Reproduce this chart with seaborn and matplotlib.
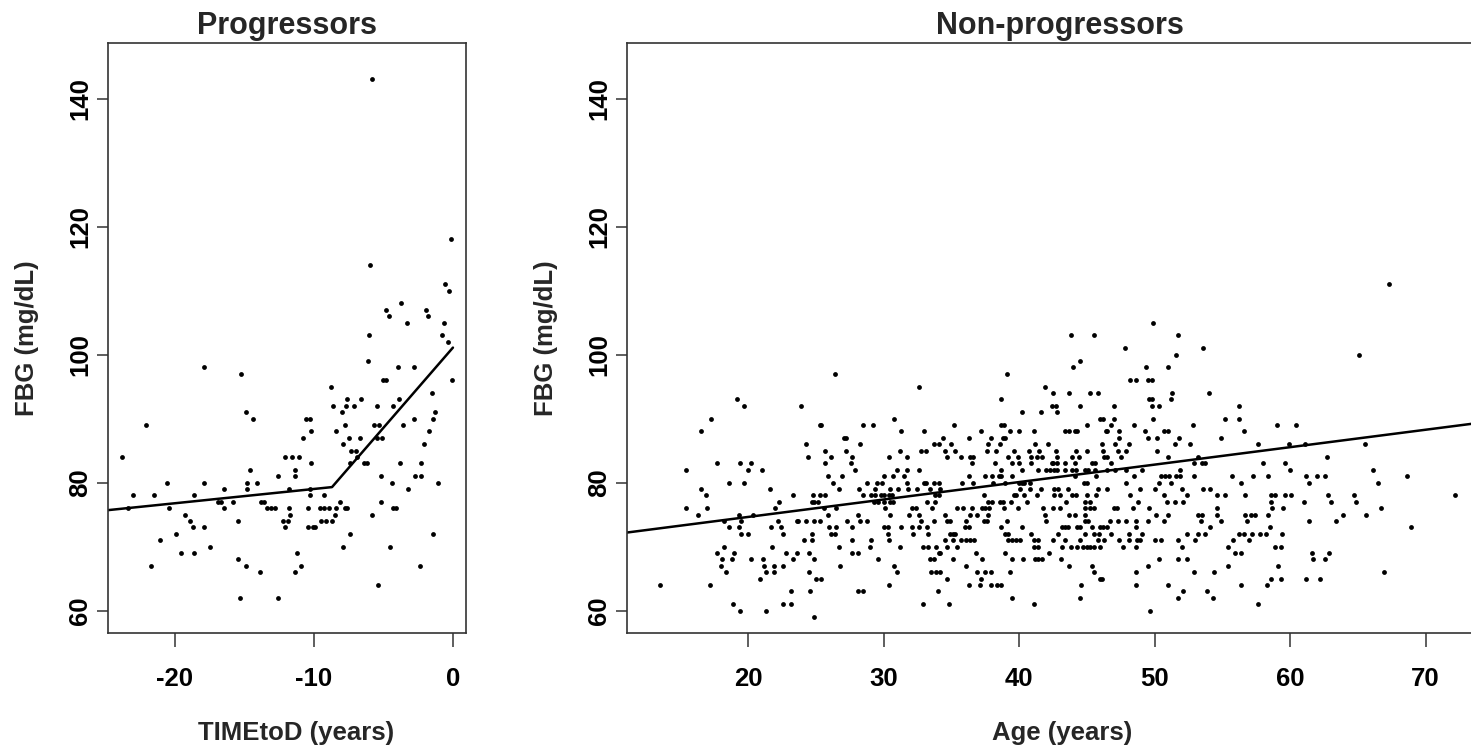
import matplotlib
matplotlib.use("Agg")
import matplotlib.pyplot as plt
import pandas as pd
import seaborn as sns

# Progressors: FBG level -> time to diagnosis (years) of the points on that level
prog_levels = [143, 118, 114, 111, 110, 108, 107, 106, 105, 103, 102, 99, 98, 97, 96, 95,
               94, 93, 92, 91, 90, 89, 88, 87, 86, 85, 84, 83, 82, 81, 80, 79, 78, 77,
               76, 75, 74, 73, 72, 71, 70, 69, 68, 67, 66, 64, 62]
prog_times = [
    [-5.85], [-0.17], [-5.95], [-0.58], [-0.26], [-3.72], [-4.84, -1.92], [-4.58, -1.82],
    [-3.29, -0.67], [-6.04, -0.77], [-0.38], [-6.14], [-17.89, -3.98, -2.81], [-15.25],
    [-5.06, -4.84, -0.05], [-8.78],
    [-1.5],
    [-7.6, -6.6, -3.9],
    [-8.6, -7.7, -7.1, -5.5, -4.3],
    [-14.9, -8.0, -1.3],
    [-14.4, -10.6, -10.3, -2.8, -1.4],
    [-22.1, -7.8, -5.7, -5.3, -3.6],
    [-10.2, -8.4, -1.7],
    [-10.8, -7.5, -6.7, -5.5, -5.1],
    [-7.9, -2.1],
    [-7.3, -7.0],
    [-23.8, -12.1, -11.6, -11.1, -6.9],
    [-10.2, -7.4, -6.4, -6.2, -3.8, -2.3],
    [-14.6, -11.4],
    [-12.6, -11.4, -5.2, -2.7, -2.3],
    [-20.6, -17.9, -14.8, -14.1, -4.4, -1.1],
    [-16.5, -14.8, -11.8, -10.3, -3.2],
    [-23.0, -21.5, -18.6, -10.3, -9.3],
    [-16.9, -16.7, -15.8, -13.8, -13.6, -8.1, -5.2],
    [-23.4, -20.4, -16.5, -13.4, -13.1, -12.8, -11.8, -10.4, -9.6, -9.3, -8.9, -8.4,
     -7.8, -7.6, -4.3, -4.1],
    [-19.3, -11.7, -8.5, -5.8],
    [-18.9, -15.5, -12.2, -11.9, -9.5, -9.1, -8.7],
    [-18.7, -17.9, -12.1, -10.4, -10.1, -9.9],
    [-19.9, -7.4, -1.4],
    [-21.1],
    [-17.5, -7.9, -4.5],
    [-19.6, -18.6, -11.2],
    [-15.5],
    [-21.7, -14.9, -10.9, -2.4],
    [-13.9, -11.4],
    [-5.4],
    [-15.3, -12.6],
]

# Non-progressors: FBG level -> ages (years) of the points on that level
np_levels = [111, 105, 103, 101, 100, 99, 98, 97, 96, 95, 94, 93, 92, 91, 90, 89, 88, 87,
             86, 85, 84, 83, 82, 81, 80, 79, 78, 77, 76, 75, 74, 73, 72, 71, 70, 69, 68,
             67, 66, 65, 64, 63, 62, 61, 60, 59]
np_ages = [
    [67.3], [49.9], [43.8, 45.5, 51.7], [47.8, 53.6], [51.6, 65.1], [44.5],
    [44.0, 49.4, 51.0], [26.4, 39.1], [48.2, 48.6, 49.5, 49.8], [32.6, 41.9],
    [42.5, 43.7, 45.2, 45.8, 51.3, 54.0],
    [19.2, 38.7, 49.6, 49.8, 51.2],
    [19.7, 23.9, 42.4, 42.7, 44.5, 47.0, 49.8, 50.3, 56.2],
    [40.2, 41.6, 42.8],
    [17.3, 30.8, 46.0, 46.2, 47.0, 49.9, 55.2, 56.2],
    [25.3, 25.4, 28.5, 29.2, 35.2, 38.7, 38.9, 45.0, 46.8, 48.5, 52.8, 59.0, 60.4],
    [16.5, 31.3, 33.0, 37.2, 39.3, 40.0, 41.1, 43.4, 43.7, 44.1, 44.3, 46.4, 46.5, 47.4,
     49.3, 50.7, 51.0, 56.6],
    [27.1, 27.2, 34.4, 36.3, 37.9, 38.8, 39.0, 47.4, 49.5, 50.2, 51.8, 54.9],
    [24.3, 28.3, 33.7, 34.1, 35.0, 37.7, 38.6, 41.2, 42.1, 46.1, 47.1, 48.1, 51.5, 52.6,
     57.6, 59.9, 61.1, 65.5],
    [25.7, 27.2, 31.2, 32.8, 33.1, 34.5, 35.3, 37.6, 38.3, 39.6, 40.7, 41.5, 42.7, 44.2,
     45.0, 46.2, 47.3, 47.9, 50.2],
    [24.4, 26.1, 27.7, 30.4, 31.7, 34.7, 35.7, 36.4, 36.6, 39.2, 39.9, 40.9, 41.3, 41.7,
     42.8, 43.9, 44.4, 46.3, 46.5, 47.5, 51.0, 53.2, 62.7],
    [17.7, 19.4, 20.2, 25.7, 27.6, 36.5, 38.2, 39.5, 40.0, 40.9, 42.4, 42.5, 42.8, 43.4,
     44.1, 45.4, 45.6, 46.8, 52.9, 53.5, 53.7, 58.0, 59.6],
    [15.4, 20.0, 21.0, 27.9, 31.0, 31.7, 32.6, 38.7, 40.2, 41.4, 42.0, 42.3, 42.6, 42.8,
     43.4, 43.9, 44.2, 44.9, 45.1, 45.6, 46.5, 47.1, 47.9, 49.1, 51.9, 60.0, 66.1],
    [25.9, 26.9, 30.0, 30.7, 31.5, 36.3, 37.5, 38.0, 38.5, 38.7, 39.5, 44.1, 45.7, 48.5,
     50.5, 50.8, 51.1, 51.6, 51.9, 52.9, 55.7, 57.3, 58.4, 61.2, 62.0, 62.6, 68.6],
    [18.6, 19.7, 26.3, 28.8, 29.5, 29.9, 31.7, 33.0, 33.1, 33.7, 34.1, 35.8, 36.6, 38.1,
     39.0, 40.0, 40.2, 40.4, 40.8, 44.8, 45.0, 47.9, 50.3, 51.2, 56.4, 61.4, 66.5],
    [16.5, 21.6, 26.7, 28.2, 29.4, 30.5, 31.1, 31.8, 32.5, 33.4, 34.2, 40.1, 40.8, 41.6,
     42.6, 42.9, 43.6, 45.8, 46.5, 48.9, 50.0, 52.0, 53.6, 54.1],
    [16.9, 23.3, 24.8, 25.3, 25.7, 28.5, 29.1, 29.4, 29.8, 30.0, 30.4, 30.6, 33.8, 34.1,
     37.4, 39.6, 39.8, 40.4, 41.3, 42.6, 43.0, 43.9, 44.2, 45.0, 45.7, 48.2, 50.7, 52.4,
     54.6, 55.2, 56.7, 58.6, 58.9, 59.6, 60.1, 62.8, 64.7, 72.2],
    [22.3, 24.7, 24.9, 25.2, 29.3, 29.6, 30.0, 30.5, 30.7, 33.2, 33.8, 37.7, 38.0, 38.6,
     38.8, 39.4, 40.6, 43.5, 44.9, 45.2, 48.8, 50.9, 51.5, 52.1, 58.6, 61.0, 63.0, 64.9],
    [15.4, 17.0, 22.0, 25.6, 26.5, 30.1, 32.1, 32.4, 33.6, 35.4, 35.9, 36.5, 37.3, 37.5,
     37.8, 38.9, 39.9, 41.8, 42.5, 43.0, 44.9, 45.2, 45.5, 47.0, 47.2, 48.4, 49.6, 54.6,
     58.7, 59.5, 66.7],
    [16.3, 19.3, 20.4, 25.9, 28.1, 30.5, 31.9, 32.6, 34.5, 36.4, 36.9, 37.7, 41.9, 43.7,
     44.1, 44.9, 50.1, 51.0, 53.2, 53.5, 54.6, 56.7, 57.1, 57.4, 58.4, 63.9, 65.6],
    [18.2, 19.5, 22.2, 23.6, 23.7, 24.3, 24.9, 25.3, 27.3, 28.3, 28.8, 32.8, 33.7, 34.7,
     34.9, 36.1, 37.4, 37.6, 39.1, 42.0, 44.9, 45.1, 46.7, 47.3, 47.9, 48.6, 49.5, 50.7,
     53.4, 54.9, 56.8, 61.4, 63.4],
    [18.6, 19.3, 21.7, 22.4, 26.0, 26.5, 27.7, 30.0, 30.3, 31.3, 32.1, 32.6, 33.2, 36.0,
     36.3, 38.7, 40.2, 43.2, 43.4, 43.6, 44.3, 44.5, 45.4, 46.0, 46.2, 46.5, 48.6, 54.1,
     58.5, 68.9],
    [19.5, 20.0, 22.6, 24.7, 26.1, 26.4, 30.3, 32.2, 33.3, 34.9, 35.1, 35.3, 39.0, 39.2,
     40.9, 42.9, 44.9, 45.5, 45.9, 46.8, 48.1, 49.1, 52.4, 53.2, 53.7, 56.2, 56.6, 57.2,
     57.8, 58.2, 59.4],
    [24.1, 24.7, 27.7, 29.1, 30.4, 34.5, 35.1, 35.7, 36.1, 36.4, 36.7, 39.2, 39.5, 39.8,
     40.1, 41.1, 41.4, 42.5, 43.4, 44.5, 45.8, 46.3, 47.4, 48.1, 48.7, 48.9, 50.0, 50.5,
     51.7, 53.0, 55.8, 57.0],
    [18.2, 21.8, 26.7, 29.0, 31.2, 32.9, 33.3, 33.9, 34.7, 35.4, 41.1, 41.4, 43.2, 43.8,
     44.3, 44.7, 45.0, 45.2, 45.5, 46.0, 47.7, 48.6, 52.0, 55.4, 58.9, 59.3],
    [17.7, 19.0, 22.8, 23.6, 24.5, 27.7, 28.1, 34.1, 34.2, 36.8, 39.0, 42.2, 55.9, 56.4,
     61.6, 62.9],
    [18.1, 18.8, 20.2, 21.1, 23.3, 24.9, 29.6, 33.4, 33.7, 35.1, 37.3, 39.5, 40.3, 41.2,
     41.4, 41.7, 43.1, 50.3, 51.7, 52.4, 61.7, 62.6],
    [18.0, 21.2, 21.9, 22.6, 26.8, 30.8, 36.1, 43.7, 45.4, 49.5, 55.4, 59.1],
    [18.4, 21.3, 21.9, 24.5, 31.0, 33.5, 33.9, 34.2, 36.9, 37.5, 37.9, 39.3, 45.5, 48.6,
     52.9, 54.4, 66.9],
    [20.9, 25.0, 25.4, 34.7, 37.2, 46.0, 46.1, 58.6, 59.3, 61.2, 62.2],
    [13.5, 17.2, 30.4, 36.3, 37.1, 37.9, 38.4, 38.7, 44.6, 48.6, 51.0, 56.4, 58.3],
    [23.2, 24.6, 28.1, 28.5, 34.0, 52.1, 53.9],
    [39.5, 44.5, 51.7, 54.3],
    [18.9, 22.6, 23.2, 32.9, 34.8, 41.1, 57.6],
    [19.4, 21.3, 49.7],
    [24.9],
]

# fitted lines (piecewise for progressors, straight for non-progressors)
prog_fit_time = [-24.82, -8.7, 0.0]
prog_fit_fbg = [75.7, 79.3, 101.1]
np_fit_age = [11.07, 74.9]
np_fit_fbg = [72.2, 89.6]


def to_frame(levels, groups):
    xs, ys = [], []
    for lev, vals in zip(levels, groups):
        for v in vals:
            xs.append(v)
            ys.append(lev)
    return pd.DataFrame({"x": xs, "y": ys})


prog = to_frame(prog_levels, prog_times)
nonprog = to_frame(np_levels, np_ages)

sns.set_style("white")
plt.rcParams["font.family"] = ["Liberation Sans", "DejaVu Sans"]
plt.rcParams["font.weight"] = "bold"
plt.rcParams["axes.unicode_minus"] = False

W, H = 1471, 750
fig = plt.figure(figsize=(W / 100, H / 100), dpi=100)


def box(x0, y0, x1, y1):
    return [x0 / W, 1 - y1 / H, (x1 - x0) / W, (y1 - y0) / H]


ax1 = fig.add_axes(box(108, 43, 466, 633))
ax2 = fig.add_axes(box(627, 43, 1492, 633))

panels = [
    (ax1, prog, prog_fit_time, prog_fit_fbg, (-24.82, 0.94), [-20, -10, 0],
     "Progressors", "TIMEtoD (years)", 296, 27),
    (ax2, nonprog, np_fit_age, np_fit_fbg, (11.07, 74.9), [20, 30, 40, 50, 60, 70],
     "Non-progressors", "Age (years)", 1062, 546),
]

for ax, df, fx, fy, xlim, xticks, title, xlabel, xlab_x, ylab_x in panels:
    sns.scatterplot(data=df, x="x", y="y", ax=ax, color="black", s=12, linewidth=0)
    sns.lineplot(x=fx, y=fy, ax=ax, color="black", lw=1.8, estimator=None, sort=False)
    ax.set_xlim(*xlim)
    ax.set_ylim(56.5, 148.7)
    ax.set_xticks(xticks)
    ax.set_yticks([60, 80, 100, 120, 140])
    ax.set_xlabel("")
    ax.set_ylabel("")
    ax.tick_params(axis="both", bottom=True, left=True, width=1.1,
                   color="#333333", labelsize=18.5, labelcolor="black")
    ax.tick_params(axis="x", length=10.3, pad=14.5)
    ax.tick_params(axis="y", length=7.7, pad=3.8)
    for lab in ax.get_yticklabels():
        lab.set_rotation(90)
        lab.set_va("center")
        lab.set_ha("right")
    for sp in ax.spines.values():
        sp.set_color("#333333")
        sp.set_linewidth(1.2)
    ax.set_title(title, fontsize=22, fontweight="bold", pad=6.5)
    fig.text(xlab_x / W, 1 - 733 / H, xlabel, ha="center", va="center",
             fontsize=18.5, fontweight="bold")
    fig.text(ylab_x / W, 1 - 338 / H, "FBG (mg/dL)", ha="center", va="center",
             rotation=90, fontsize=18.5, fontweight="bold")

fig.savefig("out.png", dpi=100)
